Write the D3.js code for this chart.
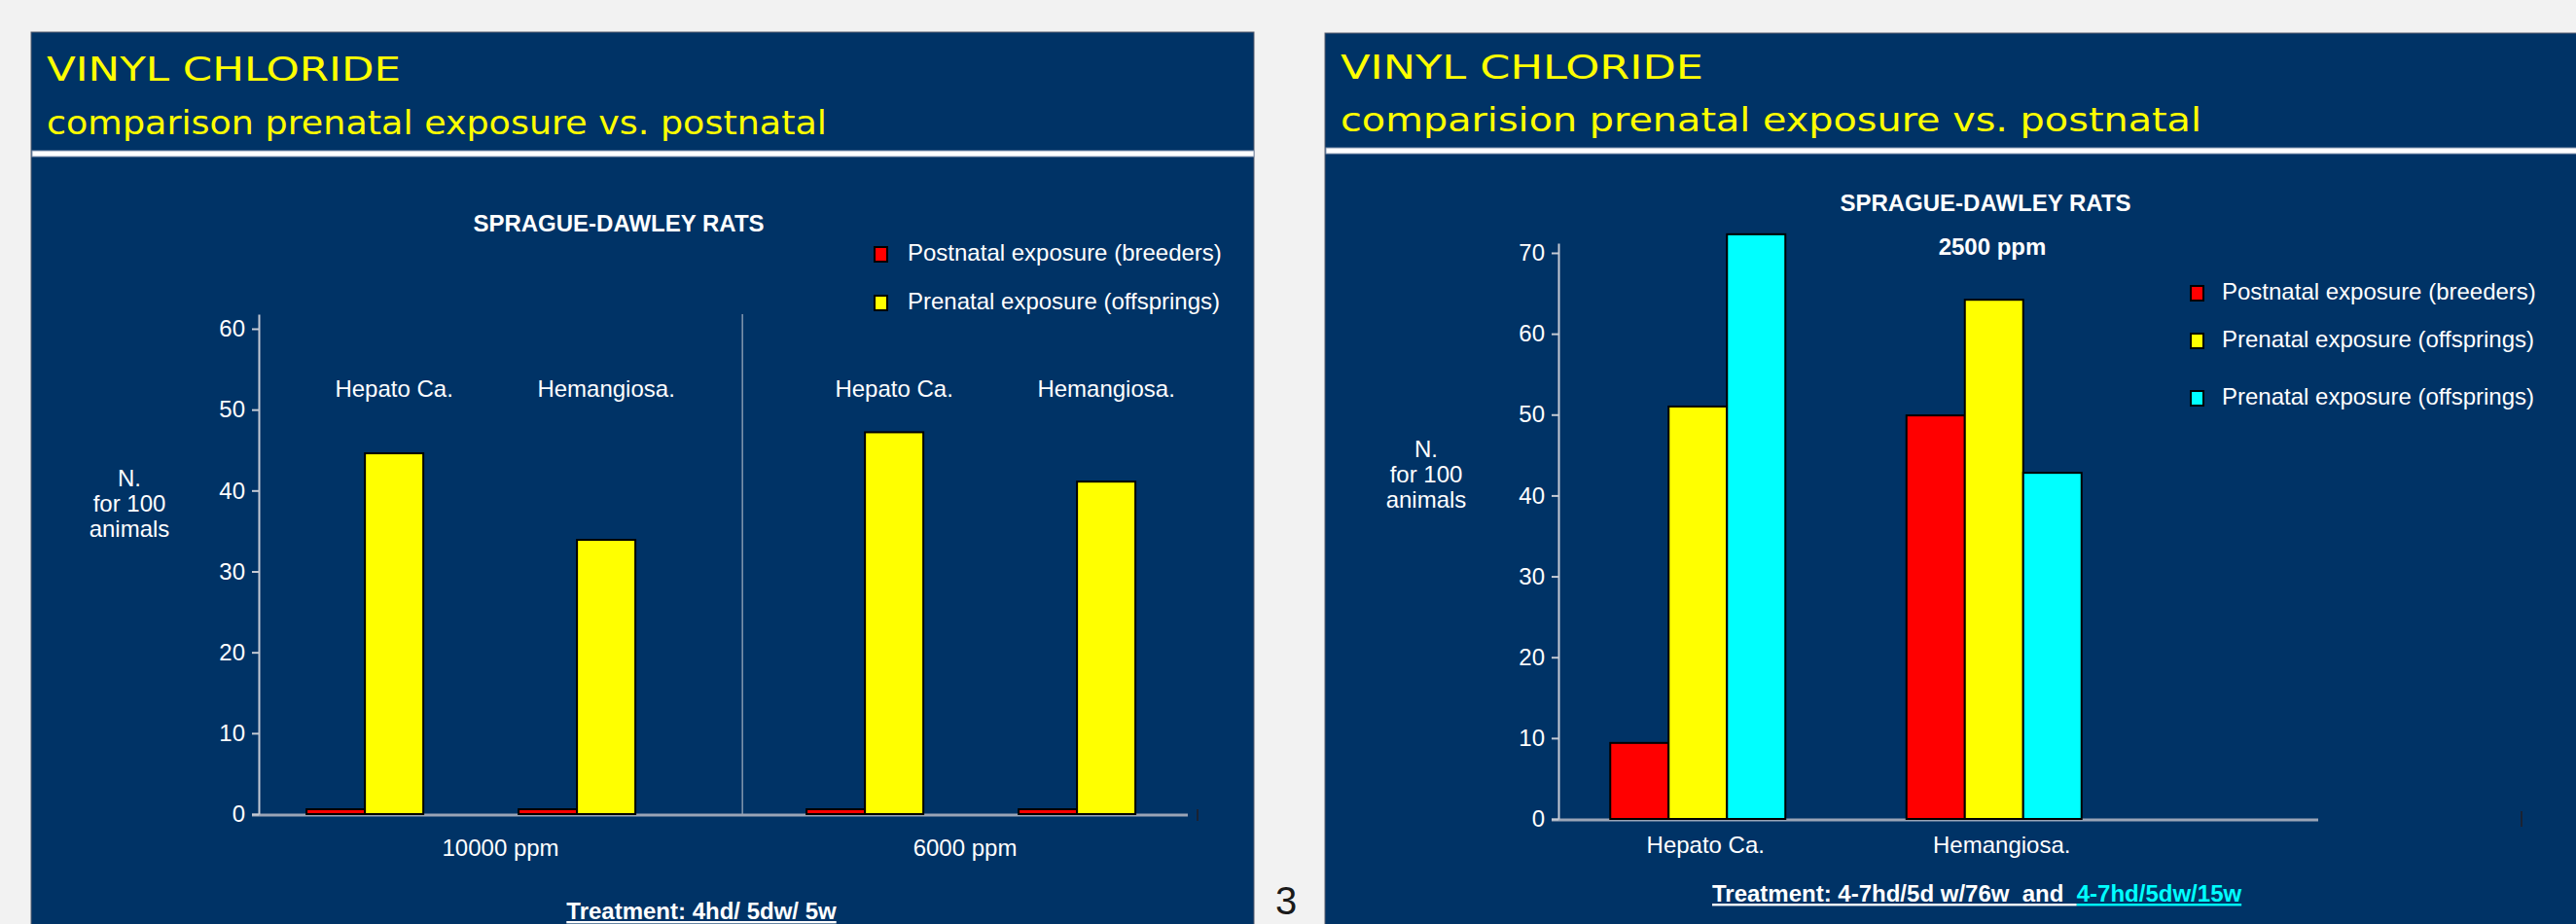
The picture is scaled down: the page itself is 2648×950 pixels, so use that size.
<!DOCTYPE html>
<html>
<head>
<meta charset="utf-8">
<script src="https://cdn.jsdelivr.net/npm/d3@7"></script>
<style>
  body { margin: 0; background: #f2f2f2; }
  svg { display: block; }
  text { font-family: "Liberation Sans", Arial, sans-serif; }
</style>
</head>
<body>
<div id="slides"></div>
<script>
// left slide : values are listed dose by dose, cancer by cancer
const doses = ['10000 ppm', '6000 ppm']
const cancers = ['Hepato Ca.', 'Hemangiosa.']
const leftPostnatal = [0.6, 0.6, 0.6, 0.6]
const leftPrenatal = [44.6, 33.9, 47.2, 41.1]
const leftTicks = [0, 10, 20, 30, 40, 50, 60]

// right slide
const rightCancers = ['Hepato Ca.', 'Hemangiosa.']
const rightPostnatal = [9.4, 49.9]
const rightPrenatal = [51, 64.2]
const rightPrenatal15w = [72.3, 42.8]
const rightTicks = [0, 10, 20, 30, 40, 50, 60, 70]

const seriesNames = ['Postnatal exposure (breeders)', 'Prenatal exposure (offsprings)', 'Prenatal exposure (offsprings)']
const seriesColors = ['#ff0000', '#ffff00', '#00ffff']

const width = 2648
const height = 950
const navy = '#003366'
const axisGray = '#c5cad4'
const baseGray = '#9aa4b6'

const svg = d3.select('#slides').append('svg')
  .attr('width', width)
  .attr('height', height)

svg.append('rect')
  .attr('width', width)
  .attr('height', height)
  .attr('fill', '#f2f2f2')

// slide frame + handwritten-ish title + white rule
const drawSlide = (x, y, w, ruleY, line1, line2, len1, len2, base1, base2) => {
  svg.append('rect')
    .attr('x', x).attr('y', y)
    .attr('width', w).attr('height', height - y + 5)
    .attr('fill', navy)
    .attr('stroke', '#5a6070')
    .attr('stroke-width', 1)

  svg.append('text')
    .attr('x', x + 16).attr('y', base1)
    .attr('fill', '#ffff00')
    .attr('font-size', 34)
    .attr('textLength', len1)
    .attr('lengthAdjust', 'spacingAndGlyphs')
    .style('font-family', '"DejaVu Sans Condensed", "DejaVu Sans", sans-serif')
    .text(line1)

  svg.append('text')
    .attr('x', x + 16).attr('y', base2)
    .attr('fill', '#ffff00')
    .attr('font-size', 34)
    .attr('textLength', len2)
    .attr('lengthAdjust', 'spacingAndGlyphs')
    .style('font-family', '"DejaVu Sans Condensed", "DejaVu Sans", sans-serif')
    .text(line2)

  svg.append('rect')
    .attr('x', x + 1).attr('y', ruleY)
    .attr('width', w - 1).attr('height', 6)
    .attr('fill', '#ffffff')
    .attr('stroke', '#8a9ab4')
    .attr('stroke-width', 1)
}

const label = (x, y, txt, opts = {}) => svg.append('text')
  .attr('x', x).attr('y', y)
  .attr('fill', opts.fill || '#ffffff')
  .attr('font-size', opts.size || 24)
  .attr('font-weight', opts.bold ? 'bold' : 'normal')
  .attr('text-anchor', opts.anchor || 'middle')
  .text(txt)

const drawYAxis = (y, ticks, x0) => {
  const axis = svg.append('g')
    .attr('transform', `translate(${x0}, 0)`)
    .call(d3.axisLeft(y).tickValues(ticks).tickSize(7).tickSizeOuter(0).tickPadding(7))
  axis.attr('font-size', 24).attr('font-family', '"Liberation Sans", Arial, sans-serif')
  axis.select('.domain').attr('stroke', axisGray).attr('stroke-width', 2)
  axis.selectAll('.tick line').attr('stroke', axisGray).attr('stroke-width', 2)
  axis.selectAll('.tick text').attr('fill', '#ffffff')
}

const drawLegend = (x, textX, ys, names) => {
  names.forEach((name, i) => {
    svg.append('rect')
      .attr('x', x).attr('y', ys[i])
      .attr('width', 13).attr('height', 15)
      .attr('fill', seriesColors[i])
      .attr('stroke', '#000').attr('stroke-width', 2)
    label(textX, ys[i] + 14, name, { anchor: 'start' })
  })
}

const drawYLabel = (cx, y0) => {
  ['N.', 'for 100', 'animals'].forEach((t, i) => label(cx, y0 + i * 26, t))
}

// slot of each series inside a group (red, yellow, cyan)
const slot = d3.scaleBand().domain([0, 1, 2]).range([-90, 90])

const drawBars = (rows, y) => {
  svg.append('g')
    .selectAll('g')
    .data(rows)
    .join('g')
    .selectAll('rect')
    .data(d => d.values.map((v, k) => ({ cx: d.cx, v, k })))
    .join('rect')
    .attr('x', d => d.cx + slot(d.k))
    .attr('y', d => y(d.v))
    .attr('width', slot.bandwidth())
    .attr('height', d => y(0) - y(d.v))
    .attr('fill', d => seriesColors[d.k])
    .attr('stroke', '#000')
    .attr('stroke-width', 2)
}

/* ---------- left slide ---------- */
drawSlide(32, 33, 1257, 155, 'VINYL CHLORIDE', 'comparison prenatal exposure vs. postnatal', 364, 802, 83, 138)

const leftX0 = 266
const leftX1 = 1221
const yLeft = d3.scaleLinear().domain([0, 61.8]).range([837, 323])
const xDose = d3.scaleBand().domain(doses).range([leftX0, 1294])
const xCancer = d3.scalePoint().domain(cancers).range([0, xDose.bandwidth()]).padding(0.679).align(0.47)

const leftRows = doses.flatMap((dose, i) => cancers.map((cancer, j) => ({
  dose,
  cancer,
  cx: xDose(dose) + xCancer(cancer),
  values: [leftPostnatal[i * 2 + j], leftPrenatal[i * 2 + j]]
})))

// the dose separator sits half way between the two dose groups
const sepX = (leftRows[1].cx + leftRows[2].cx) / 2 - 8

label(636, 238, 'SPRAGUE-DAWLEY RATS', { bold: true })
drawLegend(899, 933, [254, 304], seriesNames.slice(0, 2))
drawYLabel(133, 500)

svg.append('line')
  .attr('x1', sepX).attr('x2', sepX)
  .attr('y1', yLeft.range()[1]).attr('y2', yLeft(0))
  .attr('stroke', axisGray).attr('stroke-width', 1)

svg.append('line')
  .attr('x1', leftX0 - 7).attr('x2', leftX1)
  .attr('y1', yLeft(0) + 1).attr('y2', yLeft(0) + 1)
  .attr('stroke', baseGray).attr('stroke-width', 3)
svg.append('line')
  .attr('x1', leftX1 + 10).attr('x2', leftX1 + 10)
  .attr('y1', yLeft(0) - 5).attr('y2', yLeft(0) + 7)
  .attr('stroke', '#1a2233').attr('stroke-width', 2)

drawYAxis(yLeft, leftTicks, leftX0)
drawBars(leftRows, yLeft)

leftRows.forEach(r => label(r.cx, 408, r.cancer))
// dose names are centred in their section of the axis
const sections = [[leftX0, sepX], [sepX, leftX1]]
doses.forEach((d, i) => label((sections[i][0] + sections[i][1]) / 2, 880, d))

label(721, 945, 'Treatment: 4hd/ 5dw/ 5w', { bold: true })
  .style('text-decoration', 'underline')

// page number between the slides
label(1311, 940, '3', { fill: '#1a1a1a', size: 40, anchor: 'start' })

/* ---------- right slide ---------- */
drawSlide(1362, 34, 1300, 152, 'VINYL CHLORIDE', 'comparision prenatal exposure vs. postnatal', 373, 885, 81, 135)

const yRight = d3.scaleLinear().domain([0, 71.2]).range([842, 250])
const xRight = d3.scaleBand().domain(rightCancers).range([1593, 2202])

const rightRows = rightCancers.map((cancer, i) => ({
  cancer,
  cx: xRight(cancer) + xRight.bandwidth() / 2,
  values: [rightPostnatal[i], rightPrenatal[i], rightPrenatal15w[i]]
}))

label(2041, 217, 'SPRAGUE-DAWLEY RATS', { bold: true })
label(2048, 262, '2500 ppm', { bold: true })
drawLegend(2252, 2284, [294, 343, 402], seriesNames)
drawYLabel(1466, 470)

svg.append('line')
  .attr('x1', 1595).attr('x2', 2383)
  .attr('y1', yRight(0) + 1).attr('y2', yRight(0) + 1)
  .attr('stroke', baseGray).attr('stroke-width', 3)
svg.append('line')
  .attr('x1', 2592).attr('x2', 2592)
  .attr('y1', yRight(0) - 8).attr('y2', yRight(0) + 8)
  .attr('stroke', '#1a2233').attr('stroke-width', 2)

drawYAxis(yRight, rightTicks, 1602)
drawBars(rightRows, yRight)

rightRows.forEach(r => label(r.cx + 8, 877, r.cancer))

const treat = svg.append('text')
  .attr('x', 1760).attr('y', 927)
  .attr('font-size', 24)
  .attr('font-weight', 'bold')
  .attr('xml:space', 'preserve')
  .style('white-space', 'pre')
treat.append('tspan')
  .attr('fill', '#ffffff')
  .style('text-decoration', 'underline')
  .text('Treatment: 4-7hd/5d w/76w  and  ')
treat.append('tspan')
  .attr('fill', '#00ffff')
  .style('text-decoration', 'underline')
  .text('4-7hd/5dw/15w')
</script>
</body>
</html>
